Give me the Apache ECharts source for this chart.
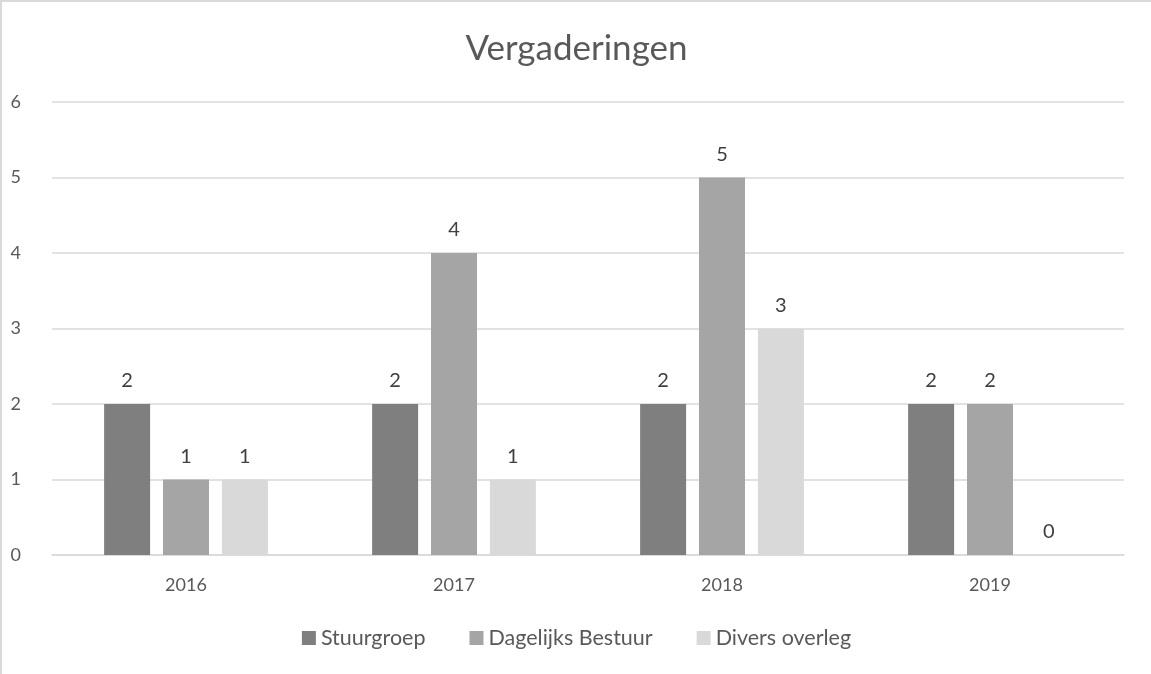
<!DOCTYPE html>
<html>
<head>
<meta charset="utf-8">
<script src="https://cdn.jsdelivr.net/npm/echarts@6/dist/echarts.min.js"></script>
<style>
  html, body { margin: 0; padding: 0; background: #fff; }
  #chart {
    width: 1151px;
    height: 674px;
    box-sizing: border-box;
    border-top: 2px solid #d9d9d9;
    border-left: 2px solid #d9d9d9;
  }
</style>
</head>
<body>
<div id="chart"></div>
<script>
const years = ['2016', '2017', '2018', '2019']
const stuurgroep = [2, 2, 2, 2]
const dagelijksBestuur = [1, 4, 5, 2]
const diversOverleg = [1, 1, 3, 0]

const font = 'Lato, "Open Sans", sans-serif'

const chart = echarts.init(document.getElementById('chart'))

function barSeries(name, data, color) {
  return {
    name: name,
    type: 'bar',
    data: data,
    barWidth: 46,
    barGap: '28%',
    itemStyle: { color: color },
    label: {
      show: true,
      position: 'top',
      distance: 13,
      color: '#404040',
      fontFamily: font,
      fontSize: 20
    }
  }
}

chart.setOption({
  animation: false,
  textStyle: { fontFamily: font },
  title: {
    text: 'Vergaderingen',
    left: 'center',
    top: 24,
    textStyle: {
      fontFamily: font,
      fontSize: 35,
      fontWeight: 'normal',
      color: '#595959'
    }
  },
  legend: {
    bottom: 20,
    left: 'center',
    itemWidth: 14,
    itemHeight: 14,
    itemGap: 44,
    icon: 'rect',
    textStyle: { fontFamily: font, fontSize: 21.5, color: '#595959' }
  },
  grid: {
    left: 50,
    right: 27,
    top: 100,
    bottom: 119
  },
  xAxis: {
    type: 'category',
    data: years,
    axisLine: { lineStyle: { color: '#d9d9d9', width: 1.5 } },
    axisTick: { show: false },
    axisLabel: { color: '#595959', fontFamily: font, fontSize: 18, margin: 21 }
  },
  yAxis: {
    type: 'value',
    min: 0,
    max: 6,
    interval: 1,
    axisLine: { show: false },
    axisTick: { show: false },
    axisLabel: { color: '#595959', fontFamily: font, fontSize: 18, margin: 31 },
    splitLine: { lineStyle: { color: '#d9d9d9', width: 1.5 } }
  },
  series: [
    barSeries('Stuurgroep', stuurgroep, '#7f7f7f'),
    barSeries('Dagelijks Bestuur', dagelijksBestuur, '#a5a5a5'),
    barSeries('Divers overleg', diversOverleg, '#d9d9d9')
  ]
})
</script>
</body>
</html>
